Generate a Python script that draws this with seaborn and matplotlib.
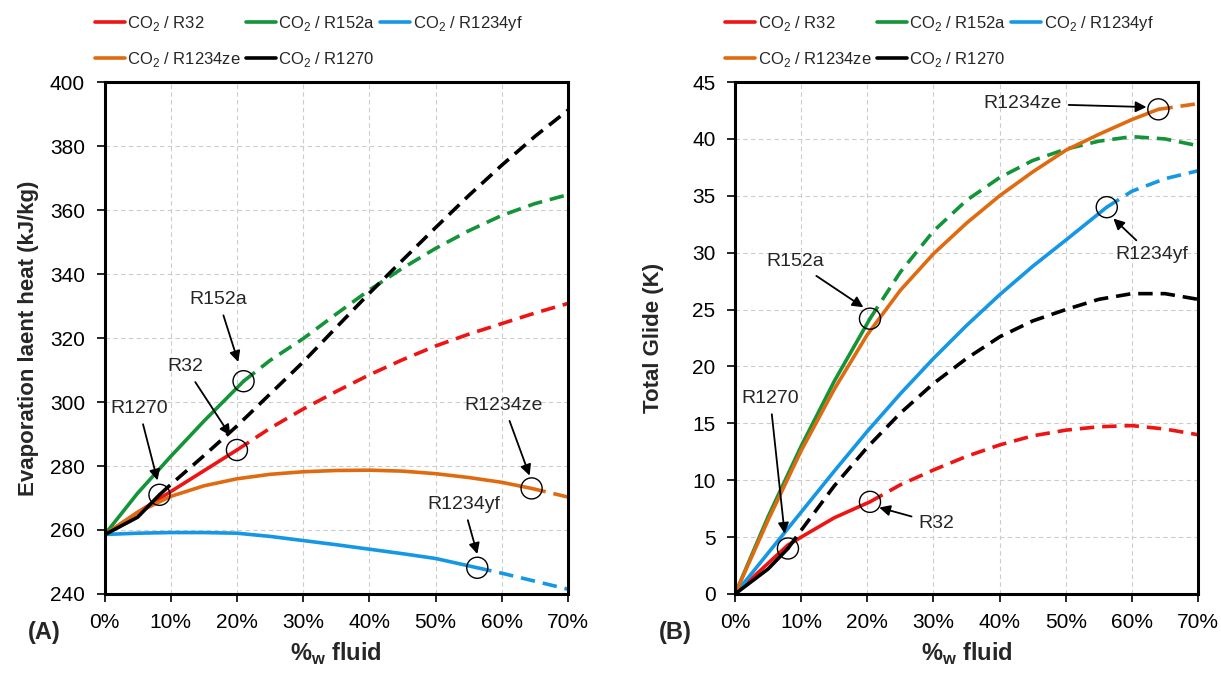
import pandas as pd
import matplotlib.pyplot as plt
import seaborn as sns
from matplotlib.lines import Line2D
from matplotlib.ticker import FuncFormatter

# Fluids and colours
fluids = ['R32', 'R152a', 'R1234yf', 'R1234ze', 'R1270']
colors = {'R32': '#EE1414', 'R152a': '#139438', 'R1234yf': '#1597E5',
          'R1234ze': '#E06A10', 'R1270': '#000000'}

# (A) Evaporation latent heat (kJ/kg) vs %w fluid
a_x = {
    'R32':     [0, 5, 10, 15, 20, 25, 30, 35, 40, 45, 50, 55, 60, 65, 70],
    'R152a':   [0, 5, 10, 15, 21, 25, 30, 35, 40, 45, 50, 55, 60, 65, 70],
    'R1234yf': [0, 5, 10, 15, 20, 25, 30, 35, 40, 45, 50, 56.3, 60, 65, 70],
    'R1234ze': [0, 5, 10, 15, 20, 25, 30, 35, 40, 45, 50, 55, 60, 64.5, 70],
    'R1270':   [0, 5, 8.3, 10, 15, 20, 25, 30, 35, 40, 45, 50, 55, 60, 65, 70],
}
a_y = {
    'R32':     [258.5, 265.5, 272, 278.5, 285, 291.8, 297.8, 303.3, 308.5, 313.2, 317.5, 321.2, 324.5, 327.8, 330.8],
    'R152a':   [258.5, 271.5, 283, 294, 306.5, 313, 319.8, 327.5, 335, 341.8, 348, 353.5, 358.3, 362, 364.8],
    'R1234yf': [258.6, 259, 259.2, 259.2, 259, 258, 256.7, 255.4, 254, 252.6, 251.1, 248.2, 246.5, 244, 241.5],
    'R1234ze': [258.5, 265.5, 270.5, 273.8, 276, 277.4, 278.2, 278.6, 278.7, 278.4, 277.6, 276.4, 274.9, 273, 270.3],
    'R1270':   [258.5, 264, 271, 274.2, 283.2, 292.5, 302.5, 312.5, 323.3, 334, 344.3, 354.5, 364.5, 374, 383, 391.2],
}
a_break = {'R32': 20, 'R152a': 21, 'R1234yf': 56.3, 'R1234ze': 64.5, 'R1270': 8.3}

# (B) Total glide (K) vs %w fluid
b_x = {
    'R32':     [0, 5, 8, 10, 15, 20.4, 25, 30, 35, 40, 45, 50, 55, 60, 65, 70],
    'R152a':   [0, 5, 10, 15, 20.4, 25, 30, 35, 40, 45, 50, 55, 60, 65, 70],
    'R1234yf': [0, 5, 10, 15, 20, 25, 30, 35, 40, 45, 50, 56.2, 60, 65, 70],
    'R1234ze': [0, 5, 10, 15, 20, 25, 30, 35, 40, 45, 50, 55, 60, 64, 70],
    'R1270':   [0, 5, 8, 10, 15, 20, 25, 30, 35, 40, 45, 50, 55, 60, 65, 70],
}
b_y = {
    'R32':     [0, 2.7, 4.3, 5.0, 6.7, 8.1, 9.6, 10.9, 12.1, 13.1, 13.9, 14.4, 14.7, 14.8, 14.5, 14.0],
    'R152a':   [0, 6.8, 13.0, 18.7, 24.2, 28.3, 31.9, 34.6, 36.6, 38.1, 39.1, 39.8, 40.2, 40.0, 39.4],
    'R1234yf': [0, 3.6, 7.2, 10.8, 14.3, 17.6, 20.7, 23.6, 26.3, 28.8, 31.1, 34.0, 35.4, 36.5, 37.2],
    'R1234ze': [0, 6.5, 12.6, 18.0, 22.8, 26.7, 29.9, 32.6, 35.0, 37.1, 39.0, 40.4, 41.7, 42.6, 43.1],
    'R1270':   [0, 2.2, 4.0, 5.6, 9.5, 12.9, 15.9, 18.5, 20.7, 22.6, 24.0, 25.0, 25.9, 26.4, 26.4, 25.9],
}
b_break = {'R32': 20.4, 'R152a': 20.4, 'R1234yf': 56.2, 'R1234ze': 64, 'R1270': 8}

# annotation label positions: (text x, text y, arrow tip x, arrow tip y)
a_notes = {
    'R152a': (17.2, 332, 20.2, 312.5),
    'R32': (12.2, 311, 19.0, 289.5),
    'R1270': (5.2, 298, 8.0, 275.5),
    'R1234ze': (60.3, 299, 64.2, 277),
    'R1234yf': (54.2, 268, 56.3, 252.5),
}
b_notes = {
    'R1234ze': (43.4, 43.1, 62.2, 42.8),
    'R152a': (9.1, 29.2, 19.4, 25.2),
    'R1234yf': (63.0, 29.8, 57.2, 33.0),
    'R1270': (5.3, 17.2, 7.5, 5.3),
    'R32': (30.5, 6.2, 21.8, 7.6),
}


def build(xs, ys, breaks):
    rows = []
    for f in fluids:
        for x, y in zip(xs[f], ys[f]):
            if x <= breaks[f]:
                rows.append((f, 'solid', x, y))
            if x >= breaks[f]:
                rows.append((f, 'dashed', x, y))
    return pd.DataFrame(rows, columns=['fluid', 'part', 'x', 'y'])


sns.set_theme(style='white')
plt.rcParams['font.family'] = ['Liberation Sans', 'DejaVu Sans']
plt.rcParams['mathtext.fontset'] = 'custom'
plt.rcParams['mathtext.rm'] = 'Liberation Sans'

fig = plt.figure(figsize=(12.21, 6.74), dpi=100)
axA = fig.add_axes([0.0856, 0.1187, 0.3796, 0.7596])
axB = fig.add_axes([0.602, 0.1187, 0.3792, 0.7596])

panels = [
    (axA, build(a_x, a_y, a_break), a_x, a_y, a_break, a_notes,
     (240, 400), range(240, 401, 20), 'Evaporation laent heat (kJ/kg)', '(A)', 8),
    (axB, build(b_x, b_y, b_break), b_x, b_y, b_break, b_notes,
     (0, 45), range(0, 46, 5), 'Total Glide (K)', '(B)', 20),
]

for ax, df, xs, ys, brk, notes, ylim, yticks, ylabel, tag, lpad in panels:
    sns.lineplot(data=df, x='x', y='y', hue='fluid', style='part',
                 hue_order=fluids, palette=colors,
                 dashes={'solid': '', 'dashed': (4, 2.2)},
                 linewidth=2.6, estimator=None, legend=False, ax=ax)

    # open circles at the solid/dashed transition
    bx = [brk[f] for f in fluids]
    by = [ys[f][xs[f].index(brk[f])] for f in fluids]
    ax.scatter(bx, by, s=230, facecolors='none', edgecolors='black',
               linewidths=1.0, zorder=6)

    for f, (tx, ty, px, py) in notes.items():
        ax.annotate(f, xy=(px, py), xytext=(tx, ty), ha='center', va='center',
                    fontsize=14,
                    arrowprops=dict(arrowstyle='-|>', color='black', lw=1.3,
                                    mutation_scale=16, shrinkA=3, shrinkB=0))

    ax.set_xlim(0, 70)
    ax.set_ylim(*ylim)
    ax.set_xticks(range(0, 71, 10))
    ax.set_yticks(list(yticks))
    ax.xaxis.set_major_formatter(FuncFormatter(lambda v, p: f'{v:.0f}%'))
    ax.grid(True, color='#cccccc', linestyle=(0, (4, 3)), linewidth=0.8)
    for s in ax.spines.values():
        s.set_linewidth(2.2)
        s.set_color('black')
    ax.tick_params(axis='both', direction='out', length=6, width=1.2,
                   labelsize=15, colors='black', bottom=True, left=True, pad=8)
    ax.set_xlabel(r'%$_\mathregular{w}$ fluid', fontsize=17, fontweight='bold', labelpad=6)
    ax.set_ylabel(ylabel, fontsize=16, fontweight='bold', labelpad=lpad)
    ax.text(-0.165, -0.075, tag, transform=ax.transAxes, fontsize=17,
            fontweight='bold', va='center')

    # legend, filled column-wise to match reference layout
    order = ['R32', 'R1234ze', 'R152a', 'R1270', 'R1234yf']
    handles = [Line2D([], [], color=colors[f], lw=2.6) for f in order]
    labels = [r'CO$_\mathregular{2}$ / ' + f for f in order]
    ax.legend(handles, labels, loc='lower left', bbox_to_anchor=(-0.05, 1.0),
              ncol=3, frameon=False, fontsize=12, handlelength=1.8,
              handletextpad=0.15, columnspacing=0.3, labelspacing=1.0,
              borderaxespad=0.4)

fig.savefig('out.png', dpi=100)
